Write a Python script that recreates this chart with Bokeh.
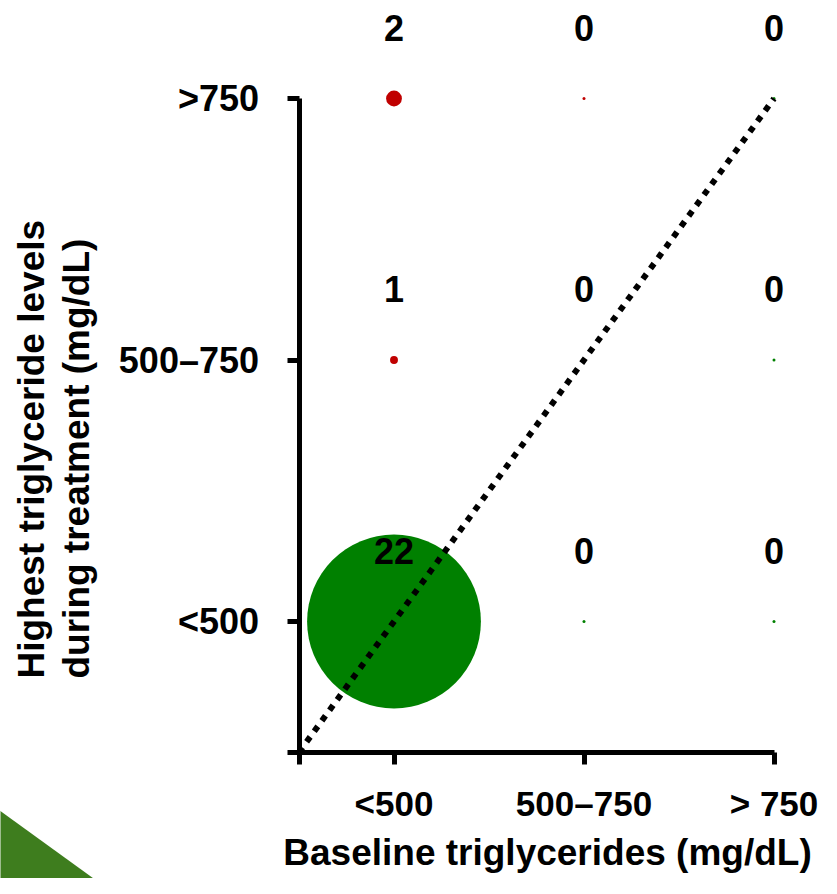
from bokeh.plotting import figure
from bokeh.models import Range1d, FixedTicker, ColumnDataSource, Label, PolyAnnotation
from bokeh.embed import file_html
from bokeh.resources import INLINE
from bokeh.core.properties import value

# ---- data ----
baseline_labels = ["<500", "500–750", "> 750"]      # x categories
highest_labels = ["<500", "500–750", ">750"]         # y categories
# counts per highest-level row, columns follow baseline_labels
counts_highest_lt500 = [22, 0, 0]
counts_highest_500_750 = [1, 0, 0]
counts_highest_gt750 = [2, 0, 0]
rows = [counts_highest_lt500, counts_highest_500_750, counts_highest_gt750]

xs, ys, cnt, colors, sizes, texts = [], [], [], [], [], []
for yi, row in enumerate(rows):
    for xi, c in enumerate(row):
        xs.append(xi + 1)
        ys.append(yi + 1)
        cnt.append(c)
        texts.append(str(c))
        colors.append("#c00000" if yi > xi else "#008000")
        sizes.append(max(c * 7.9, 3.0))

src = ColumnDataSource(dict(x=xs, y=ys, count=cnt, color=colors, size=sizes, label=texts))

FONT = "Liberation Sans"
W, H = 821, 878
XUNIT = 190.0


# pixel -> data helpers (frame covers whole canvas)
def dx(px):
    return 0.5 + (px - 298.5) / XUNIT


def dy(py):
    return 0.5 + (751.75 - py) / 261.5


p = figure(width=W, height=H, output_backend="svg", toolbar_location=None,
           x_range=Range1d(dx(0), dx(W)), y_range=Range1d(dy(H), dy(0)),
           min_border=0, min_border_left=0, min_border_right=0,
           min_border_top=0, min_border_bottom=0)
p.outline_line_color = None
p.xgrid.visible = False
p.ygrid.visible = False
p.background_fill_color = "white"
p.border_fill_color = "white"

# decorative slide triangle bottom-left
p.add_layout(PolyAnnotation(xs=[dx(-20), dx(140), dx(-20)], ys=[dy(796), dy(912), dy(912)],
                            fill_color="#3e7d1e", fill_alpha=1.0, line_color=None))

# bubbles
p.scatter(x="x", y="y", size="size", fill_color="color", line_color=None, source=src)

# identity line
p.line(x=[0.5, 3], y=[0.5, 3], line_color="black", line_width=6, line_dash="6 7")

# count labels
p.text(x="x", y="y", text="label", source=src, text_font=value(FONT), text_font_style="bold",
       text_font_size="36px", text_align="center", text_baseline="middle", y_offset=-71,
       text_color="black")

for ax, labels in ((p.xaxis, baseline_labels), (p.yaxis, highest_labels)):
    ax.fixed_location = 0.5
    ax.bounds = (0.5, 3)
    ax.ticker = FixedTicker(ticks=[0.5, 1, 2, 3])
    overrides = {0.5: ""}
    for i, lab in enumerate(labels):
        overrides[i + 1] = lab
    ax.major_label_overrides = overrides
    ax.axis_line_width = 5
    ax.axis_line_color = "black"
    ax.major_tick_line_width = 5
    ax.major_tick_line_color = "black"
    ax.major_tick_in = 0
    ax.major_tick_out = 12
    ax.minor_tick_line_color = None
    ax.major_label_text_font = FONT
    ax.major_label_text_font_style = "bold"
    ax.major_label_text_font_size = "35px"
    ax.major_label_text_color = "black"

p.yaxis.major_label_text_font_size = "36px"
p.xaxis.major_label_standoff = 20
p.yaxis.major_label_standoff = 28
p.yaxis.major_label_orientation = "horizontal"

# axis titles
p.add_layout(Label(x=dx(547), y=dy(852), text="Baseline triglycerides (mg/dL)",
                   text_font=FONT, text_font_style="bold", text_font_size="37px",
                   text_align="center", text_baseline="alphabetic", text_color="black"))
p.add_layout(Label(x=dx(31), y=dy(678), text="Highest triglyceride levels",
                   angle=1.5707963, text_font=FONT, text_font_style="bold", text_font_size="37px",
                   text_align="left", text_baseline="alphabetic", text_color="black"))
p.add_layout(Label(x=dx(76), y=dy(678), text="during treatment (mg/dL)",
                   angle=1.5707963, text_font=FONT, text_font_style="bold", text_font_size="37px",
                   text_align="left", text_baseline="alphabetic", text_color="black"))

open("out.html", "w").write(file_html(p, INLINE))
